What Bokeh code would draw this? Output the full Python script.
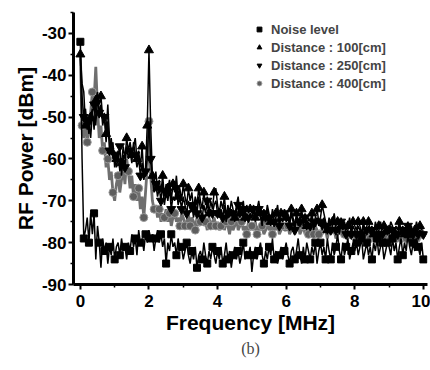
import numpy as np
from bokeh.plotting import figure
from bokeh.models import Range1d, FixedTicker, Legend, LegendItem, Title
from bokeh.embed import file_html
from bokeh.resources import INLINE

# frequency grid (MHz), 0.05 MHz spacing
freq = [round(i * 0.05, 2) for i in range(201)]

noise = [
    -32, -60, -79, -77, -74, -80, -73, -78, -73, -84, -76, -80, -86, -79, -82, -80, -85, -81, -83, -79,
    -84, -81, -80, -83, -79, -82, -81, -84, -80, -82, -78, -81, -79, -83, -77, -80, -79, -82, -78, -80,
    -77, -79, -78, -82, -79, -77, -80, -78, -81, -79, -85, -80, -82, -78, -81, -80, -83, -79, -82, -81,
    -84, -82, -80, -83, -85, -82, -84, -81, -86, -83, -82, -84, -80, -83, -85, -82, -84, -81, -83, -85,
    -82, -84, -81, -85, -83, -80, -84, -82, -86, -83, -81, -84, -82, -85, -83, -80, -84, -82, -83, -81,
    -87, -83, -81, -84, -82, -80, -83, -85, -82, -84, -81, -83, -79, -84, -82, -85, -83, -81, -84, -82,
    -80, -83, -85, -82, -81, -84, -82, -79, -83, -85, -81, -84, -80, -82, -84, -81, -83, -80, -85, -82,
    -80, -83, -81, -84, -79, -82, -84, -80, -83, -81, -78, -82, -84, -80, -83, -81, -79, -84, -82, -80,
    -82, -80, -83, -81, -79, -84, -82, -80, -83, -81, -84, -80, -82, -79, -83, -81, -80, -84, -82, -80,
    -81, -83, -79, -82, -80, -84, -81, -79, -83, -80, -82, -78, -81, -83, -80, -82, -79, -81, -83, -80,
    -84,
]

d100 = [
    -35, -42, -44, -52, -50, -54, -50, -48, -53, -46, -44, -47, -45, -50, -49, -54, -47, -55, -58, -56,
    -62, -60, -58, -63, -61, -57, -60, -55, -58, -56, -59, -57, -55, -60, -58, -62, -57, -64, -62, -52,
    -34, -52, -64, -66, -63, -67, -65, -68, -64, -69, -66, -67, -65, -70, -66, -68, -64, -69, -67, -70,
    -66, -69, -71, -67, -70, -68, -72, -69, -71, -67, -70, -72, -68, -71, -69, -73, -70, -72, -68, -67,
    -71, -73, -70, -72, -69, -74, -71, -73, -70, -72, -74, -71, -69, -73, -72, -70, -74, -71, -73, -72,
    -73, -71, -74, -72, -70, -73, -75, -72, -74, -71, -73, -75, -72, -74, -73, -71, -75, -73, -74, -72,
    -74, -73, -75, -72, -74, -76, -73, -75, -74, -72, -75, -73, -76, -74, -75, -73, -76, -74, -72, -75,
    -74, -71, -73, -75, -77, -74, -76, -75, -73, -76, -75, -77, -74, -76, -75, -77, -76, -74, -77, -75,
    -76, -77, -75, -76, -78, -75, -77, -76, -75, -77, -76, -78, -75, -77, -76, -75, -77, -76, -78, -76,
    -77, -75, -76, -78, -76, -77, -75, -77, -76, -78, -76, -75, -77, -76, -78, -77, -75, -77, -76, -77,
    -77,
]

d250 = [
    -36, -45, -50, -48, -53, -51, -55, -49, -47, -52, -45, -49, -47, -52, -50, -56, -51, -58, -55, -60,
    -59, -62, -60, -57, -64, -59, -62, -57, -60, -58, -61, -56, -59, -62, -60, -64, -61, -65, -63, -60,
    -51, -60, -65, -68, -66, -69, -67, -70, -66, -71, -68, -70, -67, -72, -69, -70, -67, -71, -69, -72,
    -69, -71, -73, -70, -72, -71, -74, -70, -73, -69, -72, -74, -71, -73, -70, -74, -72, -73, -71, -70,
    -73, -74, -72, -74, -71, -75, -73, -74, -72, -73, -75, -72, -71, -74, -73, -72, -75, -73, -74, -73,
    -74, -72, -75, -73, -72, -74, -76, -73, -75, -72, -74, -76, -73, -75, -74, -72, -76, -74, -75, -73,
    -75, -74, -76, -73, -75, -77, -74, -76, -75, -73, -76, -74, -77, -75, -76, -74, -77, -75, -74, -76,
    -75, -77, -74, -76, -78, -75, -77, -76, -74, -77, -76, -78, -75, -77, -76, -78, -77, -75, -78, -76,
    -77, -78, -76, -77, -78, -76, -78, -77, -76, -78, -77, -78, -76, -78, -77, -76, -78, -77, -78, -77,
    -78, -76, -77, -78, -77, -78, -76, -78, -77, -78, -77, -76, -78, -77, -78, -78, -76, -78, -77, -78,
    -78,
]

d400 = [
    -35, -52, -55, -50, -56, -52, -49, -44, -46, -38, -48, -55, -52, -58, -56, -62, -60, -65, -63, -68,
    -70, -66, -64, -68, -65, -62, -66, -60, -63, -67, -64, -69, -66, -70, -67, -72, -69, -74, -68, -62,
    -51, -64, -70, -72, -71, -74, -72, -75, -73, -74, -72, -75, -73, -76, -74, -73, -75, -74, -76, -73,
    -74, -76, -75, -73, -76, -74, -75, -77, -74, -76, -75, -73, -76, -75, -77, -74, -76, -75, -74, -76,
    -75, -77, -76, -74, -77, -75, -76, -78, -75, -77, -76, -74, -77, -76, -75, -77, -76, -78, -75, -77,
    -76, -77, -75, -78, -76, -77, -76, -78, -77, -75, -77, -76, -78, -76, -77, -75, -78, -77, -76, -77,
    -77, -76, -78, -77, -76, -78, -77, -75, -78, -77, -76, -78, -77, -78, -76, -77, -78, -76, -77, -78,
    -77, -78, -76, -77, -79, -77, -78, -76, -77, -79, -78, -77, -78, -76, -78, -77, -79, -78, -77, -78,
    -78, -77, -79, -78, -77, -79, -78, -77, -78, -79, -77, -78, -79, -78, -77, -79, -78, -77, -79, -78,
    -78, -79, -77, -78, -79, -78, -77, -79, -78, -77, -79, -78, -78, -79, -77, -78, -79, -78, -77, -78,
    -78,
]

labels = ["Noise level", "Distance : 100[cm]", "Distance : 250[cm]", "Distance : 400[cm]"]
x_ticks = [0, 2, 4, 6, 8, 10]
y_ticks = [-90, -80, -70, -60, -50, -40, -30]

p = figure(width=430, height=368, output_backend="svg", toolbar_location=None,
           x_range=Range1d(-0.2, 10.12), y_range=Range1d(-90, -25),
           min_border_left=73, min_border_right=3, min_border_top=12, min_border_bottom=84)
p.outline_line_color = None
p.xgrid.visible = False
p.ygrid.visible = False
p.background_fill_color = "white"

def marks(vals, start=0, step=3):
    return [freq[i] for i in range(start, len(vals), step)], [vals[i] for i in range(start, len(vals), step)]

gray = "#6f6f6f"
p.line(freq, d400, line_color=gray, line_width=2.8)
mx, my = marks(d400, 1)
r400 = p.scatter(mx, my, marker="circle", size=8, fill_color="#5e5e5e", line_color="#9a9a9a")

p.line(freq, d250, line_color="black", line_width=1.5)
mx, my = marks(d250, 2)
r250 = p.scatter(mx, my, marker="inverted_triangle", size=9, fill_color="black", line_color="black")

p.line(freq, d100, line_color="black", line_width=1.5)
mx, my = marks(d100, 0)
r100 = p.scatter(mx, my, marker="triangle", size=9, fill_color="black", line_color="black")
p.scatter([freq[40]], [d100[40]], marker="triangle", size=9, fill_color="black", line_color="black")

p.line(freq, noise, line_color="black", line_width=1.5)
mx, my = marks(noise, 2)
rn = p.scatter(mx, my, marker="square", size=7, fill_color="black", line_color="black")
p.scatter([freq[0]], [noise[0]], marker="square", size=7, fill_color="black", line_color="black")

legend = Legend(items=[LegendItem(label=labels[0], renderers=[rn]),
                       LegendItem(label=labels[1], renderers=[r100]),
                       LegendItem(label=labels[2], renderers=[r250]),
                       LegendItem(label=labels[3], renderers=[r400])],
                location=(180, 192))
legend.border_line_color = None
legend.background_fill_alpha = 0
legend.padding = 0
legend.margin = 0
legend.spacing = 0
legend.glyph_width = 12
legend.glyph_height = 18
legend.label_height = 18
legend.label_standoff = 6
legend.label_text_font = "Liberation Sans"
legend.label_text_font_style = "bold"
legend.label_text_font_size = "13px"
p.add_layout(legend)

p.xaxis.ticker = FixedTicker(ticks=x_ticks, minor_ticks=[1, 3, 5, 7, 9])
p.yaxis.ticker = FixedTicker(ticks=y_ticks, minor_ticks=[-85, -75, -65, -55, -45, -35, -25])
p.yaxis.major_label_overrides = {v: str(v) for v in y_ticks}
p.xaxis.axis_label = "Frequency [MHz]"
p.yaxis.axis_label = "RF Power [dBm]"
for ax in (p.xaxis, p.yaxis):
    ax.axis_line_width = 3
    ax.axis_line_color = "black"
    ax.major_tick_line_width = 2
    ax.major_tick_out = 5
    ax.major_tick_in = 0
    ax.minor_tick_out = 3
    ax.minor_tick_in = 0
    ax.minor_tick_line_width = 1.5
    ax.major_label_text_font = "Liberation Sans"
    ax.major_label_text_font_style = "bold"
    ax.major_label_text_font_size = "17px"
    ax.major_label_text_color = "black"
    ax.axis_label_text_font = "Liberation Sans"
    ax.axis_label_text_font_style = "bold"
    ax.axis_label_text_font_size = "21px"
    ax.axis_label_text_color = "black"
p.xaxis.major_label_standoff = 5
p.xaxis.axis_label_standoff = 1
p.yaxis.major_label_standoff = 2
p.yaxis.axis_label_standoff = 2

t = Title(text="(b)", align="center", text_font="Liberation Serif",
          text_font_size="16px", text_font_style="normal", standoff=2)
p.add_layout(t, "below")

open("out.html", "w").write(file_html(p, INLINE))
